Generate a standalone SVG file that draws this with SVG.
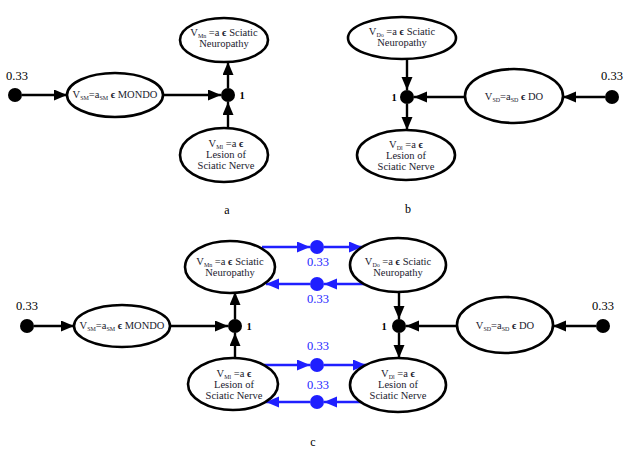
<svg xmlns="http://www.w3.org/2000/svg" width="629" height="454" viewBox="0 0 629 454">
<defs>
<marker id="ah" markerUnits="userSpaceOnUse" markerWidth="15" markerHeight="13" refX="13" refY="5.5" orient="auto"><path d="M0,0 L13,5.5 L0,11 z" fill="#000"/></marker>
<marker id="ahb" markerUnits="userSpaceOnUse" markerWidth="15" markerHeight="13" refX="13" refY="5.5" orient="auto"><path d="M0,0 L13,5.5 L0,11 z" fill="#1f1fff"/></marker>
<style>
.n ellipse{fill:#fff;stroke:#000;stroke-width:2.6}
.t{font-family:"Liberation Serif",serif;font-size:10.5px;fill:#1a1a2e;text-anchor:middle}
.s{font-size:6px}
.e{font-weight:bold}
.c line{stroke:#000;stroke-width:2.4;marker-end:url(#ah)}
.c line.b{stroke:#1f1fff;marker-end:url(#ahb)}
.dot{fill:#000}
.bdot{fill:#1f1fff}
.lab{font-family:"Liberation Serif",serif;font-size:12.5px;fill:#000;text-anchor:middle}
.blab{font-family:"Liberation Serif",serif;font-size:12.5px;fill:#1f1fff;text-anchor:middle}
.one{font-family:"Liberation Serif",serif;font-size:10.5px;font-weight:bold;fill:#000;text-anchor:middle}
.cap{font-family:"Liberation Serif",serif;font-size:12px;fill:#000;text-anchor:middle}
</style>
</defs>

<g id="connectors" class="c">
<!-- panel a -->
<line x1="22" y1="95" x2="67" y2="95"/>
<line x1="163" y1="95" x2="221" y2="95"/>
<line x1="228" y1="88" x2="228" y2="62"/>
<line x1="228" y1="128" x2="228" y2="102"/>
<!-- panel b -->
<line x1="407" y1="59" x2="407" y2="90"/>
<line x1="407" y1="104" x2="407" y2="130"/>
<line x1="465" y1="97" x2="414" y2="97"/>
<line x1="605" y1="97" x2="563" y2="97"/>
<!-- panel c -->
<line x1="34" y1="326" x2="74" y2="326"/>
<line x1="170" y1="326" x2="228" y2="326"/>
<line x1="235" y1="319" x2="235" y2="292"/>
<line x1="235" y1="358" x2="235" y2="333"/>
<line x1="399" y1="292" x2="399" y2="319"/>
<line x1="399" y1="333" x2="399" y2="358"/>
<line x1="457" y1="326" x2="406" y2="326"/>
<line x1="596" y1="326" x2="553" y2="326"/>
<!-- blue -->
<line class="b" x1="262" y1="247" x2="310" y2="247"/>
<line class="b" x1="324" y1="247" x2="362" y2="247"/>
<line class="b" x1="364" y1="284" x2="324" y2="284"/>
<line class="b" x1="310" y1="284" x2="266" y2="284"/>
<line class="b" x1="264" y1="365" x2="310" y2="365"/>
<line class="b" x1="324" y1="365" x2="366" y2="365"/>
<line class="b" x1="362" y1="402" x2="324" y2="402"/>
<line class="b" x1="310" y1="402" x2="266" y2="402"/>
</g>

<!-- panel a nodes -->
<g id="a-src"><circle class="dot" cx="15" cy="95" r="7"/><text class="lab" x="17" y="80">0.33</text></g>
<g id="a-mondo" class="n"><ellipse cx="115" cy="95" rx="48" ry="22"/>
<text class="t" x="115" y="98">V<tspan class="s" dy="2">SM</tspan><tspan dy="-2">=a</tspan><tspan class="s" dy="2">SM</tspan><tspan class="e" dy="-2"> ϵ </tspan>MONDO</text></g>
<g id="a-junction"><circle class="dot" cx="228" cy="95" r="7"/><text class="one" x="242" y="99">1</text></g>
<g id="a-neuro" class="n"><ellipse cx="224" cy="40" rx="44" ry="22"/>
<text class="t" x="224" y="36">V<tspan class="s" dy="2">Mn</tspan><tspan dy="-2"> =a </tspan><tspan class="e">ϵ</tspan> Sciatic</text>
<text class="t" x="224" y="47">Neuropathy</text></g>
<g id="a-lesion" class="n"><ellipse cx="224" cy="155" rx="44" ry="27"/>
<text class="t" x="226" y="147">V<tspan class="s" dy="2">Ml</tspan><tspan dy="-2"> =a </tspan><tspan class="e">ϵ</tspan></text>
<text class="t" x="226" y="158">Lesion of</text>
<text class="t" x="226" y="169">Sciatic Nerve</text></g>
<text class="cap" x="227" y="214">a</text>

<!-- panel b nodes -->
<g id="b-neuro" class="n"><ellipse cx="402" cy="38" rx="54" ry="21"/>
<text class="t" x="402" y="35">V<tspan class="s" dy="2">Do</tspan><tspan dy="-2"> =a </tspan><tspan class="e">ϵ</tspan> Sciatic</text>
<text class="t" x="402" y="46">Neuropathy</text></g>
<g id="b-junction"><circle class="dot" cx="407" cy="97" r="7"/><text class="one" x="394" y="101">1</text></g>
<g id="b-lesion" class="n"><ellipse cx="406" cy="155" rx="49" ry="25"/>
<text class="t" x="406" y="148">V<tspan class="s" dy="2">Dl</tspan><tspan dy="-2"> =a </tspan><tspan class="e">ϵ</tspan></text>
<text class="t" x="406" y="159">Lesion of</text>
<text class="t" x="406" y="170">Sciatic Nerve</text></g>
<g id="b-do" class="n"><ellipse cx="514" cy="96" rx="49" ry="27"/>
<text class="t" x="514" y="100">V<tspan class="s" dy="2">SD</tspan><tspan dy="-2">=a</tspan><tspan class="s" dy="2">SD</tspan><tspan class="e" dy="-2"> ϵ </tspan>DO</text></g>
<g id="b-src"><circle class="dot" cx="612" cy="97" r="7"/><text class="lab" x="612" y="80">0.33</text></g>
<text class="cap" x="408" y="213">b</text>

<!-- panel c nodes -->
<g id="c-src-left"><circle class="dot" cx="27" cy="326" r="7"/><text class="lab" x="27" y="310">0.33</text></g>
<g id="c-mondo" class="n"><ellipse cx="122" cy="326" rx="48" ry="21"/>
<text class="t" x="122" y="329">V<tspan class="s" dy="2">SM</tspan><tspan dy="-2">=a</tspan><tspan class="s" dy="2">SM</tspan><tspan class="e" dy="-2"> ϵ </tspan>MONDO</text></g>
<g id="c-junction-left"><circle class="dot" cx="235" cy="326" r="7"/><text class="one" x="249" y="330">1</text></g>
<g id="c-neuro-left" class="n"><ellipse cx="230" cy="267" rx="45" ry="26"/>
<text class="t" x="230" y="265">V<tspan class="s" dy="2">Mn</tspan><tspan dy="-2"> =a </tspan><tspan class="e">ϵ</tspan> Sciatic</text>
<text class="t" x="230" y="276">Neuropathy</text></g>
<g id="c-lesion-left" class="n"><ellipse cx="233" cy="384" rx="45" ry="26"/>
<text class="t" x="234" y="377">V<tspan class="s" dy="2">Ml</tspan><tspan dy="-2"> =a </tspan><tspan class="e">ϵ</tspan></text>
<text class="t" x="234" y="388">Lesion of</text>
<text class="t" x="234" y="399">Sciatic Nerve</text></g>
<g id="c-neuro-right" class="n"><ellipse cx="398" cy="265" rx="48" ry="27"/>
<text class="t" x="398" y="265">V<tspan class="s" dy="2">Do</tspan><tspan dy="-2"> =a </tspan><tspan class="e">ϵ</tspan> Sciatic</text>
<text class="t" x="398" y="276">Neuropathy</text></g>
<g id="c-junction-right"><circle class="dot" cx="399" cy="326" r="7"/><text class="one" x="384" y="330">1</text></g>
<g id="c-lesion-right" class="n"><ellipse cx="398" cy="385" rx="48" ry="27"/>
<text class="t" x="398" y="377">V<tspan class="s" dy="2">Dl</tspan><tspan dy="-2"> =a </tspan><tspan class="e">ϵ</tspan></text>
<text class="t" x="398" y="388">Lesion of</text>
<text class="t" x="398" y="399">Sciatic Nerve</text></g>
<g id="c-do" class="n"><ellipse cx="505" cy="325" rx="48" ry="28"/>
<text class="t" x="505" y="329">V<tspan class="s" dy="2">SD</tspan><tspan dy="-2">=a</tspan><tspan class="s" dy="2">SD</tspan><tspan class="e" dy="-2"> ϵ </tspan>DO</text></g>
<g id="c-src-right"><circle class="dot" cx="603" cy="326" r="7"/><text class="lab" x="603" y="310">0.33</text></g>
<g id="c-blue1"><circle class="bdot" cx="317" cy="247" r="7"/><text class="blab" x="318" y="266">0.33</text></g>
<g id="c-blue2"><circle class="bdot" cx="317" cy="284" r="7"/><text class="blab" x="318" y="303">0.33</text></g>
<g id="c-blue3"><circle class="bdot" cx="317" cy="365" r="7"/><text class="blab" x="318" y="350">0.33</text></g>
<g id="c-blue4"><circle class="bdot" cx="317" cy="402" r="7"/><text class="blab" x="318" y="389">0.33</text></g>
<text class="cap" x="313" y="446">c</text>
</svg>
